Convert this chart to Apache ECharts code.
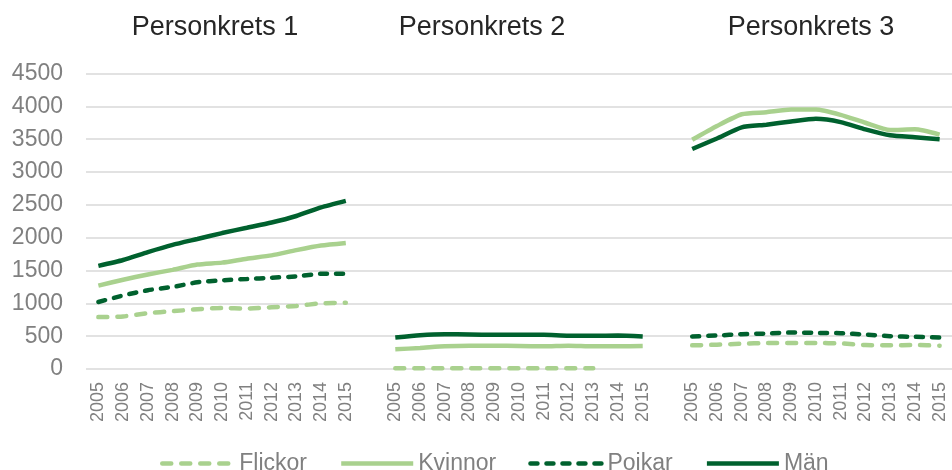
<!DOCTYPE html>
<html>
<head>
<meta charset="utf-8">
<script src="https://cdn.jsdelivr.net/npm/echarts@6/dist/echarts.min.js"></script>
<style>
  html, body { margin: 0; padding: 0; background: #fff; }
  #chart { width: 952px; height: 470px; }
</style>
</head>
<body>
<div id="chart"></div>
<script>
// years per panel, one empty slot between panels
var years = ['2005', '2006', '2007', '2008', '2009', '2010', '2011', '2012', '2013', '2014', '2015'];
var panels = ['Personkrets 1', 'Personkrets 2', 'Personkrets 3'];
var yTicks = [0, 500, 1000, 1500, 2000, 2500, 3000, 3500, 4000, 4500];

// Personkrets 1
var p1Flickor = [790, 800, 850, 880, 910, 930, 920, 940, 960, 1000, 1010];
var p1Kvinnor = [1270, 1360, 1440, 1510, 1590, 1620, 1680, 1730, 1810, 1880, 1920];
var p1Pojkar = [1020, 1120, 1200, 1250, 1320, 1350, 1370, 1390, 1410, 1450, 1450];
var p1Man = [1570, 1660, 1780, 1890, 1980, 2070, 2150, 2230, 2330, 2460, 2560];

// Personkrets 2
var p2Flickor = [10, 10, 10, 10, 10, 10, 10, 10, 10, null, null];
var p2Kvinnor = [300, 320, 345, 355, 355, 350, 345, 355, 345, 345, 350];
var p2Pojkar = [null, null, null, null, null, null, null, null, null, null, null];
var p2Man = [480, 515, 530, 525, 520, 520, 520, 505, 505, 510, 495];

// Personkrets 3
var p3Flickor = [360, 370, 385, 395, 395, 395, 390, 365, 360, 365, 355];
var p3Kvinnor = [3490, 3700, 3880, 3910, 3950, 3950, 3870, 3750, 3640, 3650, 3570];
var p3Pojkar = [495, 510, 530, 540, 555, 550, 545, 525, 500, 490, 480];
var p3Man = [3350, 3510, 3680, 3720, 3770, 3810, 3760, 3650, 3560, 3530, 3500];

function join(a, b, c) {
    return a.concat([null], b, [null], c);
}
var categories = join(years, years, years).map(function (v) { return v === null ? '' : v; });

var light = '#a9d18e';
var dark = '#00612e';
var titleFont = '27px "Liberation Sans", Arial';

var myChart = echarts.init(document.getElementById('chart'));
myChart.setOption({
    animation: false,
    textStyle: { fontFamily: 'Liberation Sans, Arial, sans-serif' },
    graphic: [
        { type: 'text', x: 215, y: 28, style: { text: panels[0], fill: '#262626', font: titleFont, textAlign: 'center', textVerticalAlign: 'middle' } },
        { type: 'text', x: 482, y: 28, style: { text: panels[1], fill: '#262626', font: titleFont, textAlign: 'center', textVerticalAlign: 'middle' } },
        { type: 'text', x: 811, y: 28, style: { text: panels[2], fill: '#262626', font: titleFont, textAlign: 'center', textVerticalAlign: 'middle' } }
    ],
    legend: {
        left: 155,
        top: 447,
        itemWidth: 72,
        itemHeight: 22,
        itemGap: 32,
        itemStyle: { opacity: 0 },
        lineStyle: { width: 4.5 },
        textStyle: { fontSize: 23, color: '#808080' },
        data: ['Flickor', 'Kvinnor', 'Pojkar', 'Män']
    },
    grid: {
        left: 86,
        right: 0,
        top: 73.5,
        bottom: 101
    },
    xAxis: {
        type: 'category',
        boundaryGap: true,
        data: categories,
        axisLine: { show: false },
        axisTick: { show: false },
        axisLabel: {
            interval: 0,
            rotate: 90,
            margin: 13,
            fontSize: 18,
            color: '#808080'
        }
    },
    yAxis: {
        type: 'value',
        min: yTicks[0],
        max: yTicks[yTicks.length - 1],
        interval: 500,
        axisLine: { show: false },
        axisTick: { show: false },
        axisLabel: {
            fontSize: 23,
            color: '#808080',
            margin: 23,
            formatter: function (v) { return String(v); }
        },
        splitLine: { lineStyle: { color: '#d9d9d9', width: 1.5 } }
    },
    series: [
        {
            name: 'Flickor',
            type: 'line',
            symbol: 'none',
            smooth: 0.2,
            data: join(p1Flickor, p2Flickor, p3Flickor),
            lineStyle: { color: light, width: 4.5, type: [9, 10], cap: 'round' },
            itemStyle: { color: light }
        },
        {
            name: 'Kvinnor',
            type: 'line',
            symbol: 'none',
            smooth: 0.2,
            data: join(p1Kvinnor, p2Kvinnor, p3Kvinnor),
            lineStyle: { color: light, width: 4.5 },
            itemStyle: { color: light }
        },
        {
            name: 'Pojkar',
            type: 'line',
            symbol: 'none',
            smooth: 0.2,
            data: join(p1Pojkar, p2Pojkar, p3Pojkar),
            lineStyle: { color: dark, width: 4.5, type: [7, 9], cap: 'round' },
            itemStyle: { color: dark }
        },
        {
            name: 'Män',
            type: 'line',
            symbol: 'none',
            smooth: 0.2,
            data: join(p1Man, p2Man, p3Man),
            lineStyle: { color: dark, width: 4.5 },
            itemStyle: { color: dark }
        }
    ]
});
</script>
</body>
</html>
